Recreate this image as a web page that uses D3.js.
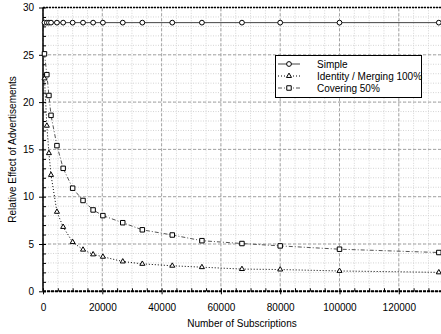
<!DOCTYPE html>
<html>
<head>
<meta charset="utf-8">
<script src="https://cdn.jsdelivr.net/npm/d3@7"></script>
<style>
	body { margin: 0; background: #fff; }
	text { font-family: "Liberation Sans", Arial, sans-serif; fill: #000; }
</style>
</head>
<body>
<div id="dataviz"></div>
<script>
// dati
var subscriptions = [500, 1300, 2000, 2700, 4700, 6800, 10000, 13500, 16900, 20200, 26900, 33500, 43600, 53600, 67100, 80000, 100000, 133500];
var simple = [28.4, 28.4, 28.4, 28.4, 28.4, 28.4, 28.4, 28.4, 28.4, 28.4, 28.4, 28.4, 28.4, 28.4, 28.4, 28.4, 28.4, 28.4];
var identity = [22.5, 17.5, 14.6, 12.3, 8.4, 6.8, 5.2, 4.4, 3.9, 3.65, 3.15, 2.9, 2.7, 2.55, 2.35, 2.3, 2.15, 2.0];
var covering = [25.1, 22.9, 20.7, 18.6, 15.4, 13.0, 10.9, 9.6, 8.6, 8.0, 7.25, 6.5, 5.95, 5.35, 5.05, 4.8, 4.45, 4.1];
var series_names = ["Simple", "Identity / Merging 100%", "Covering 50%"];
var x_ticks = [0, 20000, 40000, 60000, 80000, 100000, 120000];
var y_ticks = [0, 5, 10, 15, 20, 25, 30];

function draw_chart(){
	var width = 441;
	var height = 334;

	var svg = d3.select("#dataviz").append("svg")
		.attr("width", width)
		.attr("height", height);

	var x = d3.scaleLinear().domain([0, 140000]).range([43, 458.1]);
	var y = d3.scaleLinear().domain([0, 30]).range([291.3, 7.5]);

	// griglia minore
	var grid = svg.append("g");
	grid.selectAll(".xminor")
		.data(d3.range(0, 140001, 5000))
		.enter().append("line")
		.attr("x1", function(d){ return x(d); })
		.attr("x2", function(d){ return x(d); })
		.attr("y1", y(0)).attr("y2", y(30))
		.style("stroke", "#d4d4d4")
		.style("stroke-dasharray", "1,1.5");
	grid.selectAll(".yminor")
		.data(d3.range(0, 31, 1))
		.enter().append("line")
		.attr("x1", x(0)).attr("x2", x(140000))
		.attr("y1", function(d){ return y(d); })
		.attr("y2", function(d){ return y(d); })
		.style("stroke", "#d4d4d4")
		.style("stroke-dasharray", "1,1.5");

	// griglia maggiore
	grid.selectAll(".xmajor")
		.data(x_ticks.concat([140000]))
		.enter().append("line")
		.attr("x1", function(d){ return x(d); })
		.attr("x2", function(d){ return x(d); })
		.attr("y1", y(0)).attr("y2", y(30))
		.style("stroke", "#a4a4a4")
		.style("stroke-dasharray", "3,2");
	grid.selectAll(".ymajor")
		.data(y_ticks)
		.enter().append("line")
		.attr("x1", x(0)).attr("x2", x(140000))
		.attr("y1", function(d){ return y(d); })
		.attr("y2", function(d){ return y(d); })
		.style("stroke", "#a4a4a4")
		.style("stroke-dasharray", "3,2");

	// bordo superiore
	svg.append("line")
		.attr("x1", x(0)).attr("x2", x(140000))
		.attr("y1", y(30)).attr("y2", y(30))
		.style("stroke", "#000")
		.style("stroke-width", 1.5)
		.style("stroke-dasharray", "2,1");

	// assi
	var x_axis = svg.append("g")
		.attr("transform", "translate(0," + y(0) + ")")
		.call(d3.axisBottom(x).tickValues(x_ticks).tickSize(3).tickFormat(d3.format("d")));
	x_axis.select(".domain").remove();
	x_axis.selectAll("text").attr("dy", "0").attr("y", 20).style("font-size", "10px");
	x_axis.append("g")
		.call(d3.axisTop(x).tickValues(d3.range(0, 140001, 5000)).tickSize(3).tickFormat(""))
		.select(".domain").remove();
	x_axis.append("line")
		.attr("x1", x(0)).attr("x2", x(140000))
		.style("stroke", "#000")
		.style("stroke-width", 2)
		.style("stroke-dasharray", "3,1");

	var y_axis = svg.append("g")
		.attr("transform", "translate(" + x(0) + ",0)")
		.call(d3.axisLeft(y).tickValues(y_ticks).tickSize(4).tickPadding(5));
	y_axis.select(".domain").remove();
	y_axis.selectAll("text").style("font-size", "10px");
	y_axis.append("g")
		.call(d3.axisRight(y).tickValues(d3.range(0, 31, 1)).tickSize(3).tickFormat(""))
		.select(".domain").remove();
	y_axis.append("line")
		.attr("y1", y(0)).attr("y2", y(30))
		.style("stroke", "#000")
		.style("stroke-width", 1.5);

	// titoli assi
	svg.append("text")
		.attr("x", 242)
		.attr("y", 327)
		.attr("text-anchor", "middle")
		.style("font-size", "10px")
		.text("Number of Subscriptions");
	svg.append("text")
		.attr("transform", "translate(16," + ((y(0) + y(30)) / 2) + ") rotate(-90)")
		.attr("text-anchor", "middle")
		.style("font-size", "10px")
		.text("Relative Effect of Advertisements");

	// serie
	var all = [
		{values: simple, stroke: "#444", dash: null, symbol: d3.symbolCircle, size: 18},
		{values: identity, stroke: "#000", dash: "1,2", symbol: d3.symbolTriangle, size: 11},
		{values: covering, stroke: "#555", dash: "4,2,1,2", symbol: d3.symbolSquare, size: 20}
	];

	var line = d3.line()
		.x(function(d){ return x(d[0]); })
		.y(function(d){ return y(d[1]); });

	all.forEach(function(s){
		var pts = d3.zip(subscriptions, s.values);
		svg.append("path")
			.datum(pts)
			.attr("d", line)
			.style("fill", "none")
			.style("stroke", s.stroke)
			.style("stroke-width", 1)
			.style("stroke-dasharray", s.dash);
		svg.selectAll(null)
			.data(pts)
			.enter().append("path")
			.attr("d", d3.symbol().type(s.symbol).size(s.size))
			.attr("transform", function(d){ return "translate(" + x(d[0]) + "," + y(d[1]) + ")"; })
			.style("fill", "#fff")
			.style("stroke", "#000")
			.style("stroke-width", 1);
	});

	// legenda
	var legend = svg.append("g");
	legend.append("rect")
		.attr("x", 275.5).attr("y", 55.5)
		.attr("width", 146).attr("height", 42)
		.style("fill", "#fff")
		.style("stroke", "#000")
		.style("stroke-width", 1);
	all.forEach(function(s, i){
		var ly = 64 + i * 12;
		legend.append("line")
			.attr("x1", 278).attr("x2", 300)
			.attr("y1", ly).attr("y2", ly)
			.style("stroke", s.stroke)
			.style("stroke-dasharray", s.dash);
		legend.append("path")
			.attr("d", d3.symbol().type(s.symbol).size(s.size))
			.attr("transform", "translate(289," + ly + ")")
			.style("fill", "#fff")
			.style("stroke", "#000");
		legend.append("text")
			.attr("x", 317)
			.attr("y", ly + 3.5)
			.style("font-size", "10px")
			.text(series_names[i]);
	});
}

draw_chart();
</script>
</body>
</html>
